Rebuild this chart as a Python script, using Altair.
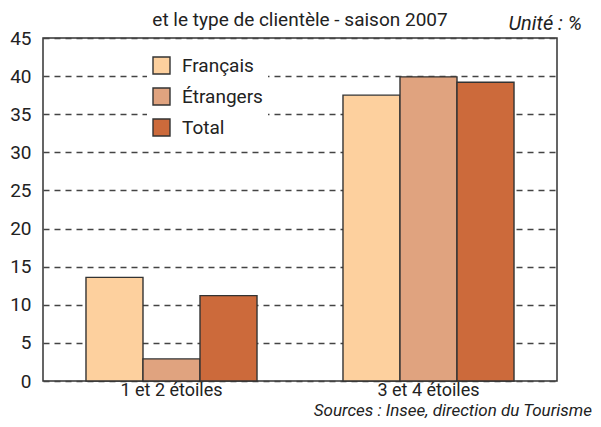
import altair as alt
import pandas as pd

categories = ["1 et 2 étoiles", "3 et 4 étoiles"]
series = ["Français", "Étrangers", "Total"]
francais = [13.6, 37.5]
etrangers = [2.9, 39.9]
total = [11.2, 39.2]
colors = ["#FDD09E", "#E0A37F", "#CC6A3B"]
y_ticks = [0, 5, 10, 15, 20, 25, 30, 35, 40, 45]

title_text = "et le type de clientèle - saison 2007"
unit_text = "Unité : %"
source_text = "Sources : Insee, direction du Tourisme"

FONT = "Roboto, Liberation Sans, sans-serif"

rows = []
for i, c in enumerate(categories):
    for s, vals in zip(series, [francais, etrangers, total]):
        rows.append({"cat": c, "serie": s, "val": vals[i]})
df = pd.DataFrame(rows)

W, H = 514, 343

bars = alt.Chart(df).mark_bar(stroke="#333333", strokeWidth=1.4).encode(
    x=alt.X("cat:N", sort=categories,
            scale=alt.Scale(paddingInner=0, paddingOuter=0),
            axis=alt.Axis(title=None, labelAngle=0, ticks=False, domain=False,
                          labelFontSize=18, labelFont=FONT, labelColor="#222222",
                          labelPadding=0)),
    xOffset=alt.XOffset("serie:N", sort=series,
                        scale=alt.Scale(paddingInner=0, paddingOuter=0.754)),
    y=alt.Y("val:Q", scale=alt.Scale(domain=[0, 45], nice=False),
            axis=alt.Axis(title=None, values=y_ticks, ticks=False, domain=False,
                          labelFontSize=19, labelFont=FONT, labelColor="#222222",
                          labelPadding=12, grid=True, gridDash=[6, 5],
                          gridColor="#444444", gridWidth=1.4)),
    color=alt.Color("serie:N", sort=series,
                    scale=alt.Scale(domain=series, range=colors),
                    legend=alt.Legend(title=None, orient="none", legendX=104, legendY=13,
                                      symbolType="square", symbolSize=289,
                                      symbolStrokeColor="#333333", symbolStrokeWidth=1.4,
                                      labelFontSize=19, labelFont=FONT, labelColor="#222222",
                                      rowPadding=8, fillColor="white", padding=5,
                                      labelOffset=11)),
)

def txt(s, x, y, align, italic=False, size=18):
    return alt.Chart(pd.DataFrame({"t": [s]})).mark_text(
        align=align, baseline="alphabetic", font=FONT, fontSize=size,
        fontStyle="italic" if italic else "normal", color="#222222"
    ).encode(text="t:N", x=alt.value(x), y=alt.value(y))

chart = alt.layer(
    bars,
    txt(title_text, 257, -12, "center", size=19),
    txt(unit_text, 539, -8, "right", italic=True, size=20),
    txt(source_text, 549, 378, "right", italic=True, size=17),
).properties(
    width=W, height=H,
    autosize=alt.AutoSizeParams(type="none"),
    padding={"left": 35, "top": 30, "right": 36, "bottom": 38},
).configure_view(stroke="#333333", strokeWidth=1.5)

chart.save("out.html", embed_options={"renderer": "svg", "actions": False})
